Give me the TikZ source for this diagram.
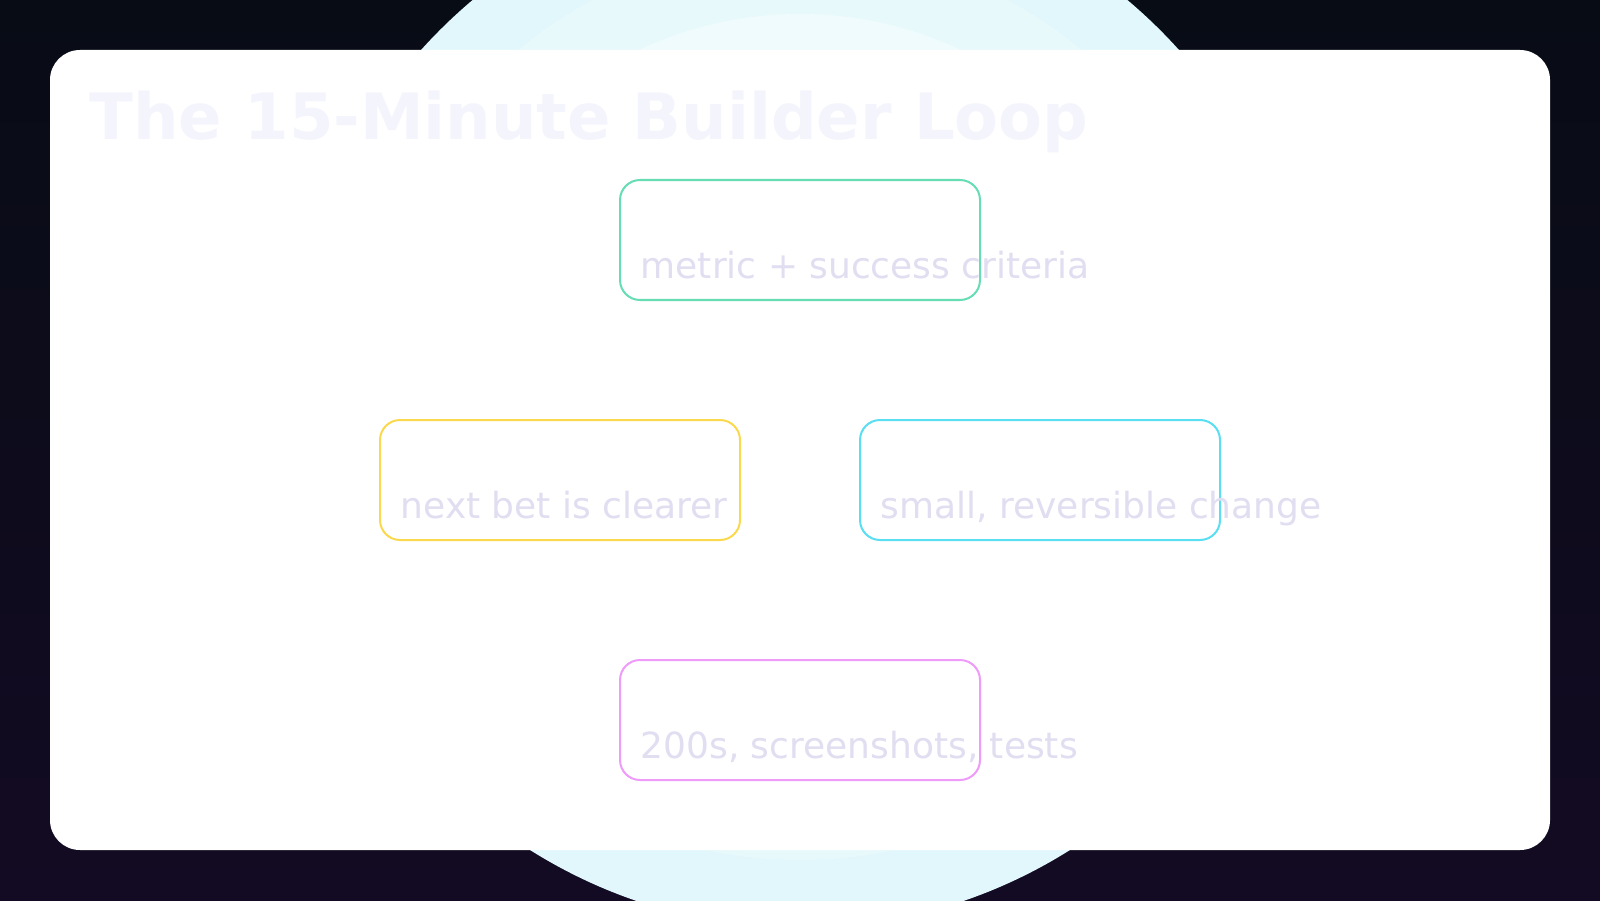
\documentclass[tikz,border=0pt]{standalone}
\usepackage{fontspec}
\setmainfont{DejaVu Sans}
\usetikzlibrary{positioning}

\definecolor{bgtop}{HTML}{080C15}
\definecolor{bgbot}{HTML}{130B23}
\definecolor{glowin}{HTML}{EFFBFD}
\definecolor{glowmid}{HTML}{E8F9FC}
\definecolor{glowout}{HTML}{E2F7FB}
\definecolor{titlecol}{HTML}{F4F4FD}
\definecolor{subcol}{HTML}{E0DEF0}
\definecolor{mint}{HTML}{66DDB2}
\definecolor{amber}{HTML}{FBD94F}
\definecolor{aqua}{HTML}{5ADEF1}
\definecolor{orchid}{HTML}{EE9BFA}

\begin{document}
\begin{tikzpicture}
	
	% Styles for the loop steps and their captions
	\tikzset{
		stepbox/.style={rectangle,draw,rounded corners=0.2cm,line width=0.57pt,
			minimum width=3.6cm,minimum height=1.2cm,outer sep=0pt,inner sep=0pt},
		caption/.style={anchor=base west,inner sep=0pt,text=subcol,
			font=\fontsize{10.24}{12}\selectfont}
	}
	
	\useasboundingbox (0,0) rectangle (16,9);
	\clip (0,0) rectangle (16,9);
	
	%========================================
	% Backdrop: dark page, pale glow, white card
	%========================================
	\shade[top color=bgtop,bottom color=bgbot] (0,0) rectangle (16,9);
	\fill[glowout] (8,4.96) ellipse [x radius=5.14cm,y radius=5.24cm];
	\fill[glowmid] (8,4.96) ellipse [x radius=4.47cm,y radius=4.56cm];
	\fill[glowin]  (8,4.96) ellipse [x radius=3.83cm,y radius=3.90cm];
	\fill[white,rounded corners=0.3cm] (0.5,0.5) rectangle (15.5,8.5);
	
	% Title
	\node[anchor=base west,inner sep=0pt,text=titlecol,
	font=\fontsize{18.2}{22}\selectfont\bfseries] (title) at (0.89,7.60)
	{The 15-Minute Builder Loop};
	
	%========================================
	% The four steps of the loop
	%========================================
	\node[stepbox,draw=mint]   (goal)   at (8,6.6)  {};
	\node[stepbox,draw=aqua]   (change) at (10.4,4.2) {};
	\node[stepbox,draw=orchid] (proof)  at (8,1.8)  {};
	\node[stepbox,draw=amber]  (learn)  at (5.6,4.2) {};
	
	% Captions
	\node[caption] (goaltxt) at ([shift={(0.2,-0.98)}]goal.north west)
	{metric + success criteria};
	\node[caption] (changetxt) at ([shift={(0.2,-0.98)}]change.north west)
	{small, reversible change};
	\node[caption] (prooftxt) at ([shift={(0.2,-0.98)}]proof.north west)
	{200s, screenshots, tests};
	\node[caption] (learntxt) at ([shift={(0.2,-0.98)}]learn.north west)
	{next bet is clearer};
	
\end{tikzpicture}
\end{document}
